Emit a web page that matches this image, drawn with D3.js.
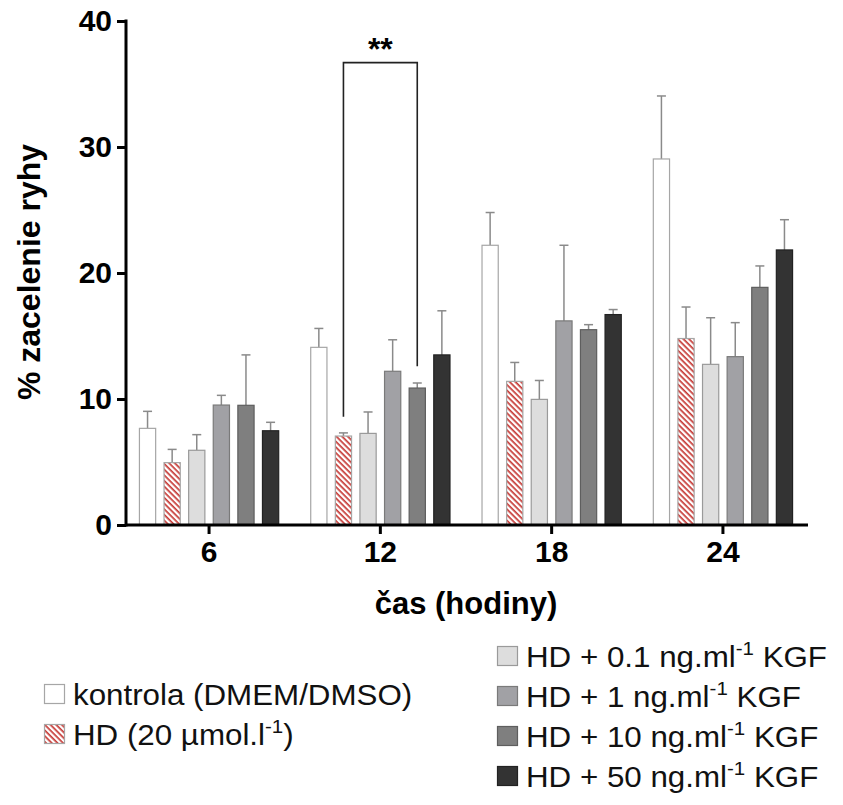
<!DOCTYPE html>
<html>
<head>
<meta charset="utf-8">
<script src="https://cdn.jsdelivr.net/npm/d3@7"></script>
<style>
  body { margin: 0; background: #fff; }
  svg { font-family: "Liberation Sans", Arial, sans-serif; }
</style>
</head>
<body>
<div id="chart"></div>
<script>
// data
const hours = ["6", "12", "18", "24"];
const seriesKeys = ["kontrola", "hd", "kgf01", "kgf1", "kgf10", "kgf50"];

const kontrola = [7.67, 14.1, 22.2, 29.05];
const hd = [4.95, 7.06, 11.4, 14.8];
const kgf01 = [5.93, 7.27, 9.97, 12.75];
const kgf1 = [9.52, 12.2, 16.2, 13.36];
const kgf10 = [9.5, 10.87, 15.5, 18.86];
const kgf50 = [7.48, 13.5, 16.7, 21.83];

const kontrolaErr = [1.35, 1.5, 2.6, 5.0];
const hdErr = [1.05, 0.25, 1.5, 2.5];
const kgf01Err = [1.24, 1.7, 1.5, 3.7];
const kgf1Err = [0.77, 2.5, 6.0, 2.7];
const kgf10Err = [4.0, 0.4, 0.4, 1.7];
const kgf50Err = [0.67, 3.5, 0.4, 2.4];

const yTicks = [0, 10, 20, 30, 40];

// legend labels: [text, superscript, after]
const legendLabels = [
  ["kontrola (DMEM/DMSO)", "", ""],
  ["HD (20 \u00b5mol.l", "-1", ")"],
  ["HD + 0.1 ng.ml", "-1", " KGF"],
  ["HD + 1 ng.ml", "-1", " KGF"],
  ["HD + 10 ng.ml", "-1", " KGF"],
  ["HD + 50 ng.ml", "-1", " KGF"]
];

// significance bracket (12 h: HD vs HD + 10 ng KGF)
const sigGroup = "12";
const sigFrom = "hd";
const sigTo = "kgf10";
const sigTop = 36.7;
const sigLeftEnd = 8.6;
const sigRightEnd = 12.6;
const sigLabel = "**";

const values = { kontrola, hd, kgf01, kgf1, kgf10, kgf50 };
const errors = { kontrola: kontrolaErr, hd: hdErr, kgf01: kgf01Err, kgf1: kgf1Err, kgf10: kgf10Err, kgf50: kgf50Err };

const fills = ["#ffffff", "url(#hatch)", "#dddddd", "#a1a1a5", "#7f7f7f", "#333333"];
const strokes = ["#a6a6a6", "#a6a6a6", "#9a9a9a", "#7a7a7a", "#5e5e5e", "#222222"];

const width = 843, height = 805;
const axisX = 126, baseY = 525;
const stretch = 1.08; // legend text in the figure is a bit wider than plain Arial

const svg = d3.select("#chart").append("svg")
  .attr("width", width)
  .attr("height", height);

// hatch for HD bars
const defs = svg.append("defs");
const pat = defs.append("pattern")
  .attr("id", "hatch")
  .attr("patternUnits", "userSpaceOnUse")
  .attr("width", 4)
  .attr("height", 4)
  .attr("patternTransform", "rotate(45)");
pat.append("rect").attr("width", 4).attr("height", 4).attr("fill", "#fff");
pat.append("rect").attr("width", 4).attr("height", 1.7).attr("fill", "#c63a36");

const y = d3.scaleLinear().domain([0, 40]).range([baseY, 21]);

const x0 = d3.scaleBand()
  .domain(hours)
  .range([123.5, 808.5])
  .paddingInner(0.095)
  .paddingOuter(0.047);

const x1 = d3.scaleBand()
  .domain(seriesKeys)
  .range([0, x0.bandwidth()])
  .padding(0.3);

// bars
const groups = svg.append("g").selectAll("g")
  .data(hours)
  .join("g")
  .attr("transform", d => `translate(${x0(d)},0)`);

const barData = (h, gi) => seriesKeys.map((k, si) => ({
  key: k, si: si, v: values[k][gi], e: errors[k][gi]
}));

groups.each(function (h, gi) {
  const g = d3.select(this);
  const data = barData(h, gi);

  // error bars (upper only)
  const eb = g.selectAll("g.err").data(data).join("g").attr("class", "err");
  eb.append("line")
    .attr("x1", d => x1(d.key) + x1.bandwidth() / 2)
    .attr("x2", d => x1(d.key) + x1.bandwidth() / 2)
    .attr("y1", d => y(d.v))
    .attr("y2", d => y(d.v + d.e))
    .attr("stroke", "#8a8a8a")
    .attr("stroke-width", 1.5);
  eb.append("line")
    .attr("x1", d => x1(d.key) + x1.bandwidth() / 2 - 4.5)
    .attr("x2", d => x1(d.key) + x1.bandwidth() / 2 + 4.5)
    .attr("y1", d => y(d.v + d.e))
    .attr("y2", d => y(d.v + d.e))
    .attr("stroke", "#8a8a8a")
    .attr("stroke-width", 1.5);

  g.selectAll("rect.bar").data(data).join("rect")
    .attr("class", "bar")
    .attr("x", d => x1(d.key) + 0.5)
    .attr("width", x1.bandwidth() - 1)
    .attr("y", d => y(d.v))
    .attr("height", d => baseY - y(d.v))
    .attr("fill", d => fills[d.si])
    .attr("stroke", d => strokes[d.si])
    .attr("stroke-width", 1.2);
});

// y axis
const yAxis = svg.append("g")
  .attr("transform", `translate(${axisX},0)`)
  .call(d3.axisLeft(y).tickValues(yTicks).tickSize(9).tickSizeOuter(0).tickPadding(5));
yAxis.select(".domain").attr("stroke-width", 3).attr("d", `M0,${y(40) - 1.5}V${baseY + 1.5}`);
yAxis.selectAll(".tick line").attr("stroke-width", 3);
yAxis.selectAll(".tick text")
  .attr("font-size", 30)
  .attr("font-weight", "bold")
  .attr("fill", "#000")
  .attr("font-family", "'Liberation Sans', Arial, sans-serif");

// x axis
const xAxis = svg.append("g")
  .attr("transform", `translate(0,${baseY})`)
  .call(d3.axisBottom(x0).tickSize(9).tickSizeOuter(0).tickPadding(7));
xAxis.select(".domain").attr("stroke-width", 3).attr("d", `M${axisX},0H808`);
xAxis.selectAll(".tick line").attr("stroke-width", 3);
xAxis.selectAll(".tick text")
  .attr("font-size", 30)
  .attr("font-weight", "bold")
  .attr("fill", "#000")
  .attr("font-family", "'Liberation Sans', Arial, sans-serif");

// axis titles
svg.append("text")
  .attr("x", 466)
  .attr("y", 614)
  .attr("text-anchor", "middle")
  .attr("font-size", 31)
  .attr("font-weight", "bold")
  .text("\u010das (hodiny)");

svg.append("text")
  .attr("transform", `translate(40,${(y(40) + baseY) / 2 - 1}) rotate(-90)`)
  .attr("text-anchor", "middle")
  .attr("font-size", 32)
  .attr("font-weight", "bold")
  .text("% zacelenie ryhy");

// significance bracket
const bx1 = x0(sigGroup) + x1(sigFrom) + x1.bandwidth() / 2;
const bx2 = x0(sigGroup) + x1(sigTo) + x1.bandwidth() / 2;
svg.append("path")
  .attr("d", `M${bx1},${y(sigLeftEnd)}V${y(sigTop)}H${bx2}V${y(sigRightEnd)}`)
  .attr("fill", "none")
  .attr("stroke", "#222")
  .attr("stroke-width", 1.6);
svg.append("text")
  .attr("x", (bx1 + bx2) / 2)
  .attr("y", y(sigTop) - 3)
  .attr("text-anchor", "middle")
  .attr("font-size", 32)
  .attr("font-weight", "bold")
  .text(sigLabel);

// legend
const legendPos = [
  { x: 44, y: 694 }, { x: 44, y: 734 },
  { x: 497, y: 656 }, { x: 497, y: 696 }, { x: 497, y: 736 }, { x: 497, y: 776 }
];
const leg = svg.append("g").selectAll("g")
  .data(legendLabels)
  .join("g")
  .attr("transform", (d, i) => `translate(${legendPos[i].x},${legendPos[i].y})`);

leg.append("rect")
  .attr("x", 0.5)
  .attr("y", -9.5)
  .attr("width", 20)
  .attr("height", 19)
  .attr("fill", (d, i) => fills[i])
  .attr("stroke", (d, i) => strokes[i])
  .attr("stroke-width", 1.2);

const lt = leg.append("text")
  .attr("transform", `translate(29,10.5) scale(${stretch},1)`)
  .attr("font-size", 29)
  .attr("fill", "#111");
lt.append("tspan").text(d => d[0]);
lt.append("tspan")
  .attr("font-size", 19)
  .attr("dy", -12)
  .text(d => d[1]);
lt.append("tspan")
  .attr("dy", d => d[1] ? 12 : 0)
  .text(d => d[2]);
</script>
</body>
</html>
